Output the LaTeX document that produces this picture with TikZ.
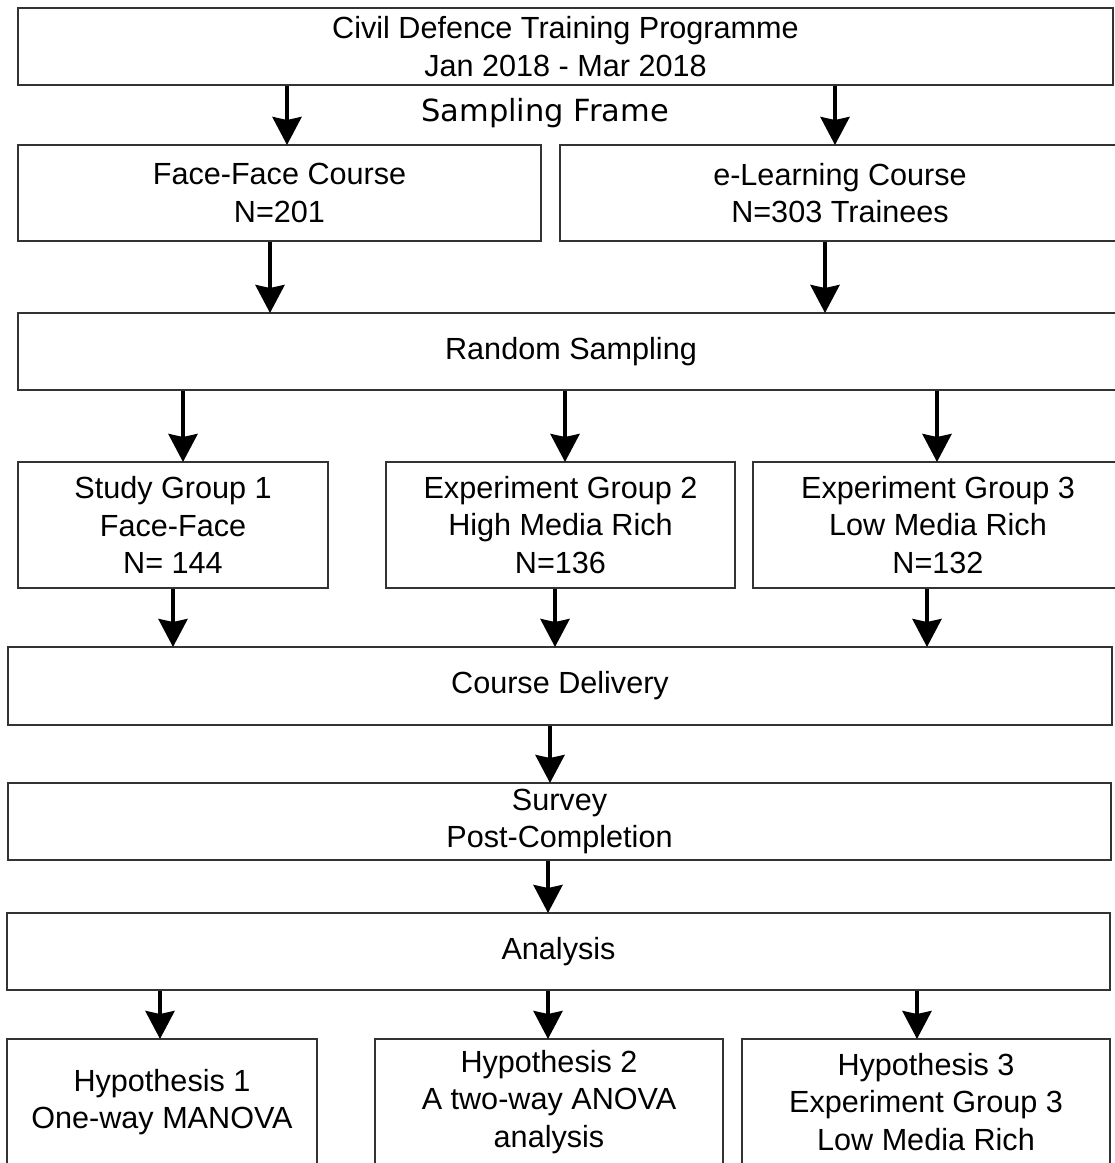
\documentclass[tikz,border=0pt]{standalone}
\usepackage{fontspec}
\setmainfont{Liberation Sans}
\newfontfamily\framefont{DejaVu Sans}
\usetikzlibrary{arrows.meta}

\tikzset{
  box/.style={draw=black!80, line width=2pt, rectangle, align=center, inner sep=0pt,
              font=\fontsize{30.6}{37.5}\selectfont},
  arr/.style={line width=4pt, -{Stealth[length=28pt,width=29pt,inset=3pt]}, shorten >=-1pt}
}

\begin{document}
\begin{tikzpicture}[x=1pt,y=-1pt]
\useasboundingbox[fill=white] (0,0) rectangle (1115,1163);

% programme and the two course streams
\node[box, minimum width=1095pt, minimum height=77pt] (prog) at (565.5,46.5)
  {Civil Defence Training Programme\\Jan 2018 - Mar 2018};
\node[font=\framefont\fontsize{30.5}{35}\selectfont, inner sep=0pt] (frame) at (545,113) {Sampling Frame};
\node[box, minimum width=523pt, minimum height=96pt] (face) at (279.5,193)
  {Face-Face Course\\N=201};
\node[box, minimum width=560pt, minimum height=96pt] (elearn) at (840,193)
  {e-Learning Course\\N=303 Trainees};

% sampling and groups
\node[box, minimum width=1106pt, minimum height=77pt] (random) at (571,351.5) {Random Sampling};
\node[box, minimum width=310pt, minimum height=126pt] (g1) at (173,525)
  {Study Group 1\\Face-Face\\N= 144};
\node[box, minimum width=349pt, minimum height=126pt] (g2) at (560.5,525)
  {Experiment Group 2\\High Media Rich\\N=136};
\node[box, minimum width=370pt, minimum height=126pt] (g3) at (938,525)
  {Experiment Group 3\\Low Media Rich\\N=132};

% delivery, survey, analysis
\node[box, minimum width=1104pt, minimum height=78pt] (deliver) at (560,686) {Course Delivery};
\node[box, minimum width=1103pt, minimum height=77pt] (survey) at (559.5,821.5) {Survey\\Post-Completion};
\node[box, minimum width=1103pt, minimum height=77pt] (analysis) at (558.5,951.5) {Analysis};

% hypotheses
\node[box, minimum width=310pt, minimum height=126pt] (h1) at (162,1102)
  {Hypothesis 1\\One-way MANOVA};
\node[box, minimum width=348pt, minimum height=126pt] (h2) at (549,1102)
  {Hypothesis 2\\A two-way ANOVA\\analysis};
\node[box, minimum width=368pt, minimum height=126pt] (h3) at (926,1102)
  {Hypothesis 3\\Experiment Group 3\\Low Media Rich};

% connectors
\draw[arr] (prog.south -| 287,0) -- (face.north -| 287,0);
\draw[arr] (prog.south -| 835,0) -- (elearn.north -| 835,0);
\draw[arr] (face.south -| 270,0) -- (random.north -| 270,0);
\draw[arr] (elearn.south -| 825,0) -- (random.north -| 825,0);
\draw[arr] (random.south -| 183,0) -- (g1.north -| 183,0);
\draw[arr] (random.south -| 565,0) -- (g2.north -| 565,0);
\draw[arr] (random.south -| 937,0) -- (g3.north -| 937,0);
\draw[arr] (g1.south -| 173,0) -- (deliver.north -| 173,0);
\draw[arr] (g2.south -| 555,0) -- (deliver.north -| 555,0);
\draw[arr] (g3.south -| 927,0) -- (deliver.north -| 927,0);
\draw[arr] (deliver.south -| 550,0) -- (survey.north -| 550,0);
\draw[arr] (survey.south -| 548,0) -- (analysis.north -| 548,0);
\draw[arr] (analysis.south -| 160,0) -- (h1.north -| 160,0);
\draw[arr] (analysis.south -| 548,0) -- (h2.north -| 548,0);
\draw[arr] (analysis.south -| 917,0) -- (h3.north -| 917,0);
\end{tikzpicture}
\end{document}
